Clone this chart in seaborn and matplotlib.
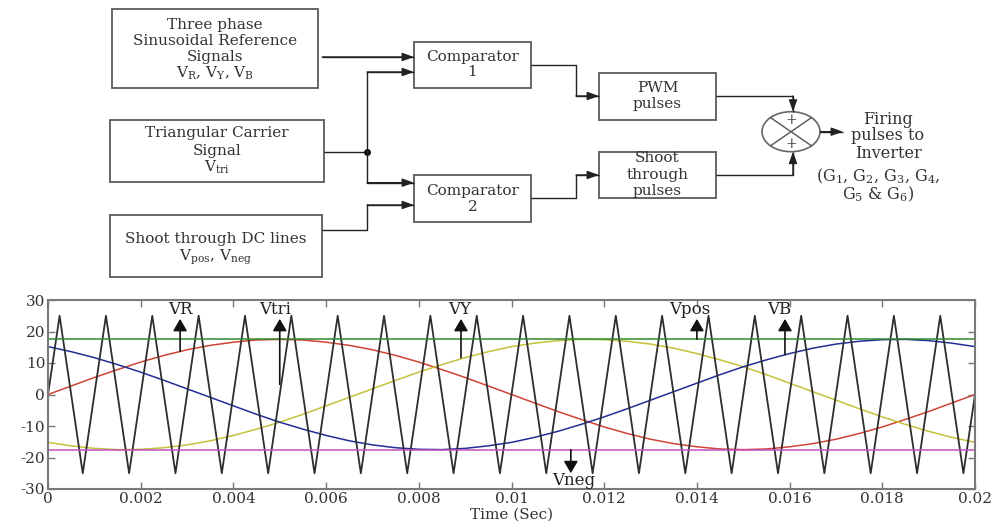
import pandas as pd
import seaborn as sns
import matplotlib.pyplot as plt
from matplotlib.patches import Rectangle, Ellipse

# ---- waveform data (volts vs seconds) ----
time_s = [0.0, 0.0005, 0.001, 0.0015, 0.002, 0.0025, 0.003, 0.0035, 0.004, 0.0045,
          0.005, 0.0055, 0.006, 0.0065, 0.007, 0.0075, 0.008, 0.0085, 0.009, 0.0095,
          0.01, 0.0105, 0.011, 0.0115, 0.012, 0.0125, 0.013, 0.0135, 0.014, 0.0145,
          0.015, 0.0155, 0.016, 0.0165, 0.017, 0.0175, 0.018, 0.0185, 0.019, 0.0195, 0.02]
vr = [0.0, 2.7, 5.4, 7.9, 10.3, 12.4, 14.2, 15.6, 16.6, 17.3,
      17.5, 17.3, 16.6, 15.6, 14.2, 12.4, 10.3, 7.9, 5.4, 2.7,
      0.0, -2.7, -5.4, -7.9, -10.3, -12.4, -14.2, -15.6, -16.6, -17.3,
      -17.5, -17.3, -16.6, -15.6, -14.2, -12.4, -10.3, -7.9, -5.4, -2.7, 0.0]
vy = [-15.2, -16.3, -17.1, -17.5, -17.4, -16.9, -16.0, -14.7, -13.0, -11.0,
      -8.8, -6.3, -3.6, -0.9, 1.8, 4.5, 7.1, 9.5, 11.7, 13.6,
      15.2, 16.3, 17.1, 17.5, 17.4, 16.9, 16.0, 14.7, 13.0, 11.0,
      8.8, 6.3, 3.6, 0.9, -1.8, -4.5, -7.1, -9.5, -11.7, -13.6, -15.2]
vb = [15.2, 13.6, 11.7, 9.5, 7.1, 4.5, 1.8, -0.9, -3.6, -6.3,
      -8.8, -11.0, -13.0, -14.7, -16.0, -16.9, -17.4, -17.5, -17.1, -16.3,
      -15.2, -13.6, -11.7, -9.5, -7.1, -4.5, -1.8, 0.9, 3.6, 6.3,
      8.8, 11.0, 13.0, 14.7, 16.0, 16.9, 17.4, 17.5, 17.1, 16.3, 15.2]

# triangular carrier vertices
carrier_t = [0.0, 0.00025, 0.00075, 0.00125, 0.00175, 0.00225, 0.00275, 0.00325, 0.00375,
             0.00425, 0.00475, 0.00525, 0.00575, 0.00625, 0.00675, 0.00725, 0.00775,
             0.00825, 0.00875, 0.00925, 0.00975, 0.01025, 0.01075, 0.01125, 0.01175,
             0.01225, 0.01275, 0.01325, 0.01375, 0.01425, 0.01475, 0.01525, 0.01575,
             0.01625, 0.01675, 0.01725, 0.01775, 0.01825, 0.01875, 0.01925, 0.01975, 0.02]
carrier_v = [0] + [25, -25] * 20 + [0]

# shoot-through DC lines
v_pos = 17.5
v_neg = -17.5

# signal name tags: label, arrow time, arrow base, arrow tip, text y
tag_names = ['VR', 'Vtri', 'VY', 'Vpos', 'VB', 'Vneg']
tag_t = [0.00285, 0.0050, 0.00891, 0.0140, 0.0159, 0.01128]
tag_text_t = [0.00285, 0.0049, 0.00889, 0.01385, 0.01577, 0.01135]
tag_base = [13.7, 3.2, 11.7, 17.6, 12.7, -17.5]
tag_tip = [24.0, 24.0, 24.0, 24.0, 24.0, -25.0]
tag_text_y = [27.0, 27.0, 27.0, 27.0, 27.0, -27.3]

x_ticks = [0, 0.002, 0.004, 0.006, 0.008, 0.01, 0.012, 0.014, 0.016, 0.018, 0.02]
x_tick_labels = ['0', '0.002', '0.004', '0.006', '0.008', '0.01', '0.012', '0.014',
                 '0.016', '0.018', '0.02']
y_ticks = [-30, -20, -10, 0, 10, 20, 30]
y_tick_labels = ['-30', '-20', '-10', '0', '10', '20', '30']

# block diagram texts
ref_block = ['Three phase', 'Sinusoidal Reference', 'Signals',
             r'V$_\mathrm{R}$, V$_\mathrm{Y}$, V$_\mathrm{B}$']
carrier_block = ['Triangular Carrier', 'Signal', r'V$_\mathrm{tri}$']
dc_block = ['Shoot through DC lines', r'V$_\mathrm{pos}$, V$_\mathrm{neg}$']
comp1_block = ['Comparator', '1']
comp2_block = ['Comparator', '2']
pwm_block = ['PWM', 'pulses']
shoot_block = ['Shoot', 'through', 'pulses']
output_text = ['Firing', 'pulses to', 'Inverter']
gate_text = [r'(G$_1$, G$_2$, G$_3$, G$_4$,', r'G$_5$ & G$_6$)']

palette = {'VR': '#cf4436', 'VY': '#c4c23a', 'VB': '#222e96'}

sns.set_theme(style='ticks')
plt.rcParams['font.family'] = ['DejaVu Serif']
plt.rcParams['mathtext.fontset'] = 'dejavuserif'
plt.rcParams['axes.unicode_minus'] = False

fig = plt.figure(figsize=(10.02, 5.25), dpi=100)

# ---- block diagram, drawn in pixel coordinates ----
dia = fig.add_axes([0, 0, 1, 1])
dia.set_xlim(0, 1002)
dia.set_ylim(525, 0)
dia.axis('off')

def block(x0, y0, x1, y1, lines, ys):
    dia.add_patch(Rectangle((x0, y0), x1 - x0, y1 - y0, fill=False,
                            ec='#5a5a5a', lw=1.3))
    for txt, y in zip(lines, ys):
        dia.text((x0 + x1) / 2, y, txt, ha='center', va='center',
                 fontsize=11, color='#333333')

def wire(xs, ys, arrow=True):
    dia.plot(xs, ys, color='#222222', lw=1.0, solid_capstyle='butt')
    if arrow:
        dia.annotate('', xy=(xs[-1], ys[-1]), xytext=(xs[-2], ys[-2]),
                     arrowprops=dict(arrowstyle='-|>,head_length=0.7,head_width=0.25',
                                     color='#222222', lw=1.0, mutation_scale=10,
                                     shrinkA=0, shrinkB=0))

block(112, 9, 318, 88, ref_block, [25, 41, 57.5, 73.5])
block(110, 120, 324, 182, carrier_block, [133.5, 151, 167])
block(110, 215, 322, 277, dc_block, [238.5, 257])
block(414, 42, 531, 88, comp1_block, [57, 72])
block(414, 175, 531, 222, comp2_block, [190.5, 207])
block(599, 73, 716, 120, pwm_block, [87.5, 104])
block(599, 152, 716, 198, shoot_block, [158, 175, 191.5])

wire([322, 414], [57, 57])
wire([324, 367], [151.7, 151.7], arrow=False)
dia.plot([367], [151.7], 'o', color='#111111', ms=4)
wire([367, 367, 414], [151.7, 72, 72])
wire([367, 367, 414], [151.7, 182.7, 182.7])
wire([322, 367, 367, 414], [230, 230, 205, 205])
wire([531, 576, 576, 599], [65, 65, 96, 96])
wire([531, 576, 576, 599], [198.3, 198.3, 175, 175])
wire([716, 793, 793], [96, 96, 111.7])
wire([716, 793, 793], [175, 175, 151.7])
wire([820, 843], [131.7, 131.7])

dia.add_patch(Ellipse((791, 131.7), 58, 40, fill=False, ec='#666666', lw=1.2))
dia.plot([770.5, 811.5], [117.6, 145.8], color='#555555', lw=1.0)
dia.plot([770.5, 811.5], [145.8, 117.6], color='#555555', lw=1.0)
dia.text(791, 120, '+', ha='center', va='center', fontsize=10, color='#444444')
dia.text(791, 143.5, '+', ha='center', va='center', fontsize=10, color='#444444')

for txt, y in zip(output_text, [119, 136, 153]):
    dia.text(888, y, txt, ha='center', va='center', fontsize=11.5, color='#333333')
for txt, y in zip(gate_text, [176.5, 194]):
    dia.text(878, y, txt, ha='center', va='center', fontsize=11.5, color='#333333')

# ---- waveform plot ----
ax = fig.add_axes([48 / 1002, 1 - 489 / 525, 927 / 1002, 189 / 525])

waves = pd.DataFrame({'t': time_s, 'VR': vr, 'VY': vy, 'VB': vb})
waves = waves.melt(id_vars='t', var_name='phase', value_name='v')
sns.lineplot(data=waves, x='t', y='v', hue='phase', palette=palette,
             lw=1.1, legend=False, ax=ax)
sns.lineplot(x=carrier_t, y=carrier_v, color='#2e2e2e', lw=1.3, ax=ax)
ax.axhline(v_pos, color='#2f8a2f', lw=1.1)
ax.axhline(v_neg, color='#c04fc0', lw=1.1)

for name, t, tt, b, tip, ty in zip(tag_names, tag_t, tag_text_t, tag_base,
                                   tag_tip, tag_text_y):
    ax.annotate('', xy=(t, tip), xytext=(t, b),
                arrowprops=dict(arrowstyle='-|>,head_length=0.6,head_width=0.35',
                                color='#111111', lw=1.2, mutation_scale=12,
                                shrinkA=0, shrinkB=0))
    ax.text(tt, ty, name, ha='center', va='center', fontsize=12, color='#222222')

ax.set_xlim(0, 0.02)
ax.set_ylim(-30, 30)
ax.set_xticks(x_ticks)
ax.set_xticklabels(x_tick_labels)
ax.set_yticks(y_ticks)
ax.set_yticklabels(y_tick_labels)
ax.tick_params(direction='in', top=True, right=True, length=5, width=1,
               color='#777777', labelsize=11, labelcolor='#333333', pad=2)
for sp in ax.spines.values():
    sp.set_color('#7a7a7a')
    sp.set_linewidth(1.5)
ax.set_xlabel('Time (Sec)', fontsize=11, color='#333333', labelpad=1)
ax.set_ylabel('')

fig.savefig('out.png', dpi=100)
